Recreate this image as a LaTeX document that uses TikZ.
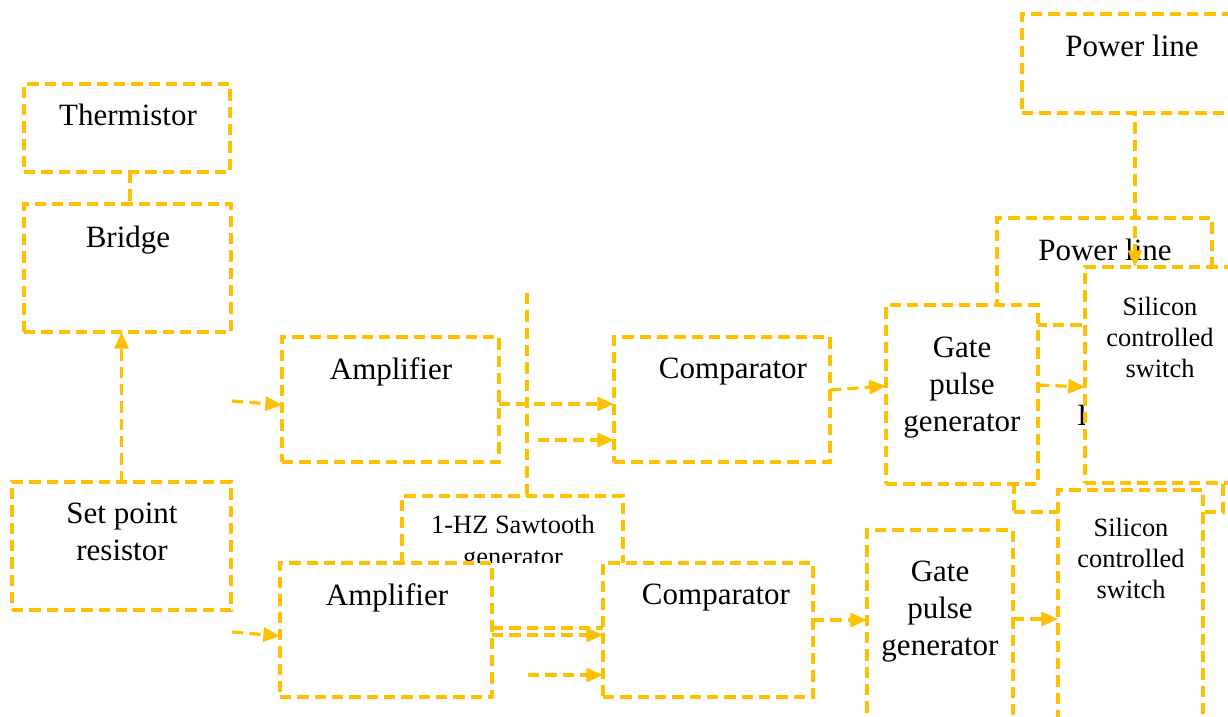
\documentclass[tikz,border=0pt]{standalone}
\usepackage{fontspec}
\setmainfont{Liberation Serif}
\usetikzlibrary{arrows.meta,fit}
\definecolor{gold}{RGB}{255,192,0}
\begin{document}
\begin{tikzpicture}[x=0.75pt,y=-0.75pt,
  box/.style={draw=gold, line width=2.4pt, dash pattern=on 8.5pt off 4.5pt, inner sep=0pt, outer sep=0pt, fill=white},
  nobox/.style={inner sep=0pt, outer sep=0pt},
  dline/.style={draw=gold, line width=2.4pt, dash pattern=on 8.5pt off 4.5pt},
  arr/.style={dline, -{Triangle[length=12.5pt,width=10.5pt]}},
  big/.style={font=\fontsize{23.25}{27.75}\selectfont, align=center, inner sep=0pt},
  small/.style={font=\fontsize{19.8}{23.25}\selectfont, align=center, inner sep=0pt},
]
\useasboundingbox (0,0) rectangle (1228,717);
\clip (0,0) rectangle (1228,717);

% left column
\node[box, fit={(24,84) (230,172)}] (therm) {};
\node[big] (thermT) at (128,115) {Thermistor};
\node[box, fit={(24,204) (231,332)}] (bridge) {};
\node[big] (bridgeT) at (128,240) {Bridge};
\node[box, fit={(12,482) (231,610)}] (setpt) {};
\node[big] (setptT) at (122,532) {Set point\\resistor};

% row 1
\node[box, fit={(282,337) (499,462)}] (amp1) {};
\node[big] (amp1T) at (391,372) {Amplifier};
\node[box, fit={(614,337) (830,462)}] (comp1) {};
\node[big] (comp1T) at (733,372) {Comparator};

% sawtooth
\node[nobox, fit={(402,496) (623,563)}] (saw) {};
\draw[dline] (saw.south west) -- (saw.north west) -- (saw.north east) -- (saw.south east);
\begin{scope}
  \clip (402,496) rectangle (623,562);
  \node[small, font=\fontsize{19.8}{24}\selectfont] (sawT) at (513,543) {1-HZ Sawtooth\\generator};
\end{scope}

% row 2
\node[box, fit={(280,563) (492,697)}] (amp2) {};
\node[big] (amp2T) at (387,598) {Amplifier};
\node[box, fit={(603,563) (813,697)}] (comp2) {};
\node[big] (comp2T) at (716,598) {Comparator};

% right part
\node[box, fit={(1022,14) (1260,113)}] (pl1) {};
\node[big] (pl1T) at (1132,46) {Power line};
\node[box, fit={(997,218) (1212,400)}] (pl2) {};
\node[big] (pl2T) at (1105,250) {Power line};
\node[box, fit={(1014,325) (1223,512)}] (load) {};
\node[big, anchor=west] (loadT) at (1077,415) {Load};
\node[box, fit={(886,305) (1038,484)}] (gate1) {};
\node[big] (gate1T) at (962,388) {Gate\\pulse\\generator};
\node[box, fit={(1085,267) (1260,483)}] (scs1) {};
\node[small] (scs1T) at (1160,337) {Silicon\\controlled\\switch};
\node[box, fit={(867,530) (1013,760)}] (gate2) {};
\node[big] (gate2T) at (940,612) {Gate\\pulse\\generator};
\node[box, fit={(1058,490) (1203,760)}] (scs2) {};
\node[small] (scs2T) at (1131,558) {Silicon\\controlled\\switch};

% helper coordinates
\coordinate (tb) at (130,0);
\coordinate (in1) at (232,401);
\coordinate (e1) at (0,405);
\coordinate (r1) at (0,404);
\coordinate (in1b) at (538,440);
\coordinate (vtop) at (527,293);
\coordinate (c1o) at (0,390);
\coordinate (g1i) at (0,386);
\coordinate (g1o) at (0,385);
\coordinate (s1i) at (0,387);
\coordinate (plx) at (1135,0);
\coordinate (in2) at (232,632);
\coordinate (e2) at (0,636);
\coordinate (r2) at (0,635);
\coordinate (r2b) at (0,628);
\coordinate (in2b) at (528,675);
\coordinate (r3) at (0,620);
\coordinate (r4) at (0,619);

% connectors
\draw[dline] (therm.south -| tb) -- (bridge.north -| tb);
\draw[arr] (setpt.north) -- (setpt.north |- bridge.south);
\draw[arr] (in1) -- (amp1.west |- e1);
\draw[arr] (amp1.east |- r1) -- (comp1.west |- r1);
\draw[arr] (in1b) -- (comp1.west |- in1b);
\draw[dline] (vtop) -- (vtop |- saw.north);
\draw[arr] (comp1.east |- c1o) -- (gate1.west |- g1i);
\draw[arr] (gate1.east |- g1o) -- (scs1.west |- s1i);
\draw[arr, dash phase=6pt] (pl1.south -| plx) -- (scs1.north -| plx);
\draw[arr] (in2) -- (amp2.west |- e2);
\draw[dline] (amp2.east |- r2b) -- (comp2.west |- r2b);
\draw[arr] (amp2.east |- r2) -- (comp2.west |- r2);
\draw[arr] (in2b) -- (comp2.west |- in2b);
\draw[arr] (comp2.east |- r3) -- (gate2.west |- r3);
\draw[arr] (gate2.east |- r4) -- (scs2.west |- r4);
\end{tikzpicture}
\end{document}
